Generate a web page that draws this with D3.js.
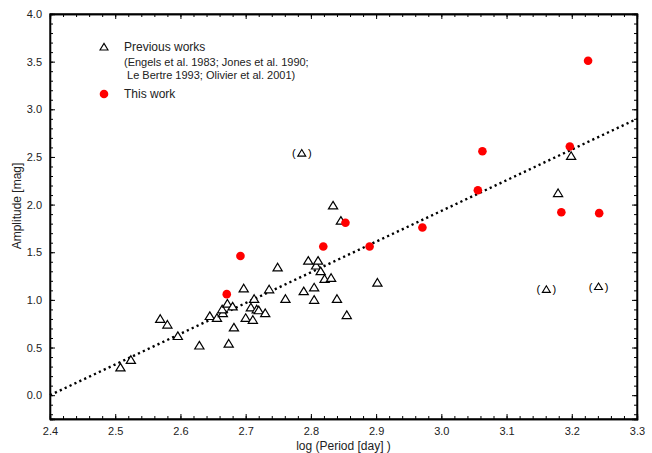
<!DOCTYPE html>
<html>
<head>
<meta charset="utf-8">
<script src="https://cdn.jsdelivr.net/npm/d3@7"></script>
<style>
  body { margin: 0; background: #fff; }
  text { font-family: "Liberation Sans", Arial, sans-serif; }
</style>
</head>
<body>
<div id="chart"></div>
<script>
// Previous works (triangles)
var prevLogP = [2.508, 2.524, 2.569, 2.580, 2.596, 2.629, 2.645, 2.656, 2.665, 2.664,
  2.672, 2.680, 2.674, 2.682, 2.697, 2.700, 2.708, 2.711, 2.713, 2.717,
  2.720, 2.730, 2.736, 2.749, 2.761, 2.789, 2.796, 2.805, 2.805, 2.808,
  2.811, 2.815, 2.821, 2.831, 2.834, 2.840, 2.846, 2.855, 2.902, 3.179, 3.199];
var prevAmp = [0.29, 0.37, 0.80, 0.74, 0.62, 0.52, 0.83, 0.81, 0.86, 0.90,
  0.96, 0.93, 0.54, 0.71, 1.12, 0.81, 0.92, 0.79, 1.01, 0.90,
  0.89, 0.86, 1.11, 1.34, 1.01, 1.09, 1.41, 1.00, 1.13, 1.36,
  1.41, 1.30, 1.22, 1.23, 1.99, 1.01, 1.83, 0.84, 1.18, 2.12, 2.51];

// uncertain previous values, shown in brackets
var bracketLogP = [2.786, 3.161, 3.241];
var bracketAmp = [2.54, 1.11, 1.14];

// This work (red dots)
var thisLogP = [2.671, 2.692, 2.819, 2.853, 2.890, 2.971, 3.056, 3.063, 3.184, 3.197, 3.225, 3.242];
var thisAmp = [1.06, 1.46, 1.56, 1.81, 1.56, 1.76, 2.15, 2.56, 1.92, 2.61, 3.51, 1.91];

// dotted fit line end points
var fitLogP = [2.4, 3.3];
var fitAmp = [0.0, 2.9];

var xTickVals = [2.4, 2.5, 2.6, 2.7, 2.8, 2.9, 3.0, 3.1, 3.2, 3.3];
var yTickVals = [0.0, 0.5, 1.0, 1.5, 2.0, 2.5, 3.0, 3.5, 4.0];

//---------------------------------------------------------------------------
var svgWidth = 652;
var svgHeight = 453;
var margin = { top: 14, right: 15, bottom: 34, left: 50 };
var width = svgWidth - margin.left - margin.right;
var height = svgHeight - margin.top - margin.bottom;

var svg = d3.select("#chart").append("svg").attr("width", svgWidth).attr("height", svgHeight);
var chartGroup = svg.append("g").attr("transform", "translate(" + margin.left + "," + margin.top + ")");

var xScale = d3.scaleLinear().domain([2.4, 3.3]).range([0, width]);
var yScale = d3.scaleLinear().domain([-0.25, 4.0]).range([height, 0]);

// minor ticks first, then major ticks with labels (ticks point inward)
var xMinor = d3.range(2.4, 3.3001, 0.02);
var yMinor = d3.range(-0.2, 4.0001, 0.1);

function minorAxis(axisFn, scale, vals) {
  return axisFn(scale).tickValues(vals).tickSize(-3).tickFormat("");
}

chartGroup.append("g").attr("class", "ax").attr("transform", "translate(0," + height + ")")
  .call(minorAxis(d3.axisBottom, xScale, xMinor));
chartGroup.append("g").attr("class", "ax")
  .call(minorAxis(d3.axisTop, xScale, xMinor));
chartGroup.append("g").attr("class", "ax")
  .call(minorAxis(d3.axisLeft, yScale, yMinor));
chartGroup.append("g").attr("class", "ax").attr("transform", "translate(" + width + ",0)")
  .call(minorAxis(d3.axisRight, yScale, yMinor));

var bottomAxis = d3.axisBottom(xScale).tickValues(xTickVals).tickSize(-5).tickPadding(8).tickFormat(d3.format(".1f"));
var leftAxis = d3.axisLeft(yScale).tickValues(yTickVals).tickSize(-5).tickPadding(8).tickFormat(d3.format(".1f"));

chartGroup.append("g").attr("class", "ax").attr("transform", "translate(0," + height + ")").call(bottomAxis);
chartGroup.append("g").attr("class", "ax").call(leftAxis);
chartGroup.append("g").attr("class", "ax").call(d3.axisTop(xScale).tickValues(xTickVals).tickSize(-5).tickFormat(""));
chartGroup.append("g").attr("class", "ax").attr("transform", "translate(" + width + ",0)")
  .call(d3.axisRight(yScale).tickValues(yTickVals).tickSize(-5).tickFormat(""));

chartGroup.selectAll(".ax path").attr("stroke", "#000").attr("stroke-width", 1.3);
chartGroup.selectAll(".ax line").attr("stroke", "#000");
chartGroup.selectAll(".ax text").attr("fill", "#222").style("font-size", "11px").style("font-family", "'Liberation Sans', Arial, sans-serif");

// frame
chartGroup.append("rect").attr("x", 0).attr("y", 0).attr("width", width).attr("height", height)
  .attr("fill", "none").attr("stroke", "#000").attr("stroke-width", 1.3);

// dotted fit line
var fitData = fitLogP.map(function(d, i) { return [d, fitAmp[i]]; });
chartGroup.append("path").datum(fitData)
  .attr("d", d3.line().x(function(d) { return xScale(d[0]); }).y(function(d) { return yScale(d[1]); }))
  .attr("fill", "none").attr("stroke", "#000").attr("stroke-width", 2.4)
  .attr("stroke-dasharray", "2.2,3.2");

// triangles
var triPath = "M0,-4.2L4.6,3.4L-4.6,3.4Z";
var prevData = prevLogP.map(function(d, i) { return { x: d, y: prevAmp[i] }; });
chartGroup.selectAll(".prev").data(prevData).enter().append("path").attr("class", "prev")
  .attr("d", triPath)
  .attr("transform", function(d) { return "translate(" + xScale(d.x) + "," + yScale(d.y) + ")"; })
  .attr("fill", "#fff").attr("stroke", "#000").attr("stroke-width", 1.2);

var bracketData = bracketLogP.map(function(d, i) { return { x: d, y: bracketAmp[i] }; });
var bracketGroup = chartGroup.selectAll(".bracket").data(bracketData).enter().append("g").attr("class", "bracket")
  .attr("transform", function(d) { return "translate(" + xScale(d.x) + "," + yScale(d.y) + ")"; });
bracketGroup.append("path").attr("d", "M0,-3.6L4,3L-4,3Z").attr("fill", "#fff").attr("stroke", "#000").attr("stroke-width", 1.1);
bracketGroup.append("text").attr("x", -8).attr("y", 4).attr("text-anchor", "middle").style("font-size", "11px").text("(");
bracketGroup.append("text").attr("x", 8).attr("y", 4).attr("text-anchor", "middle").style("font-size", "11px").text(")");

// red dots
var thisData = thisLogP.map(function(d, i) { return { x: d, y: thisAmp[i] }; });
chartGroup.selectAll(".this").data(thisData).enter().append("circle").attr("class", "this")
  .attr("cx", function(d) { return xScale(d.x); })
  .attr("cy", function(d) { return yScale(d.y); })
  .attr("r", 4.3).attr("fill", "#ff0000");

// legend
var legend = svg.append("g");
legend.append("path").attr("d", "M0,-3.6L4,3L-4,3Z").attr("transform", "translate(104,47)")
  .attr("fill", "#fff").attr("stroke", "#000").attr("stroke-width", 1.1);
legend.append("text").attr("x", 124).attr("y", 51).style("font-size", "12px").attr("fill", "#222").text("Previous works");
legend.append("text").attr("x", 124).attr("y", 66).style("font-size", "11px").attr("fill", "#222").text("(Engels et al. 1983; Jones et al. 1990;");
legend.append("text").attr("x", 124).attr("y", 79).style("font-size", "11px").attr("fill", "#222").attr("xml:space", "preserve").text("\u00a0Le Bertre 1993; Olivier et al. 2001)");
legend.append("circle").attr("cx", 104).attr("cy", 94).attr("r", 4.3).attr("fill", "#ff0000");
legend.append("text").attr("x", 124).attr("y", 98).style("font-size", "12px").attr("fill", "#222").text("This work");

// axis titles
svg.append("text").attr("x", margin.left + width / 2).attr("y", 450).attr("text-anchor", "middle")
  .style("font-size", "12px").attr("fill", "#222").text("log (Period [day] )");
svg.append("text").attr("transform", "translate(21,206) rotate(-90)").attr("text-anchor", "middle")
  .style("font-size", "12px").attr("fill", "#222").text("Amplitude [mag]");
</script>
</body>
</html>
